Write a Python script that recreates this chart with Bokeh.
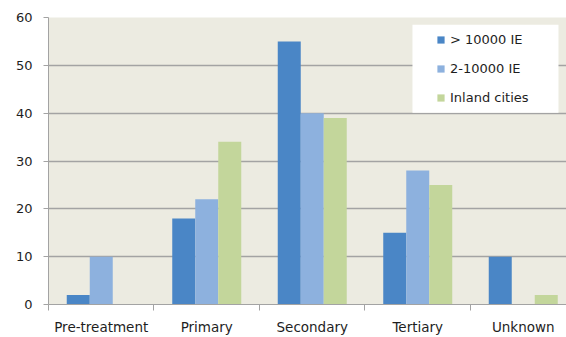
from bokeh.plotting import figure
from bokeh.models import (ColumnDataSource, Range1d, FixedTicker, Legend, LegendItem,
                          BoxAnnotation)
from bokeh.transform import dodge
from bokeh.embed import file_html
from bokeh.resources import INLINE

categories = ["Pre-treatment", "Primary", "Secondary", "Tertiary", "Unknown"]
series_names = ["> 10000 IE", "2-10000 IE", "Inland cities"]
large = [2, 18, 55, 15, 10]
medium = [10, 22, 40, 28, 0]
inland = [0, 34, 39, 25, 2]
y_ticks = [0, 10, 20, 30, 40, 50, 60]

colors = ["#4A86C6", "#8DB1DE", "#C3D69B"]
grid_col = "#A3A3A3"
text_col = "#1E1E1E"

src = ColumnDataSource(dict(x=list(range(len(categories))), a=large, b=medium, c=inland))

p = figure(width=566, height=337, output_backend="svg", toolbar_location=None,
           x_range=Range1d(-0.5, 4.41), y_range=Range1d(0, 60),
           min_border_left=48, min_border_right=0, min_border_top=17, min_border_bottom=33)
p.background_fill_color = "#ECEBE1"
p.border_fill_color = "white"
p.outline_line_color = None

bw = 0.218
r1 = p.vbar(x=dodge("x", -bw, range=p.x_range), top="a", width=bw, source=src,
            fill_color=colors[0], line_color=None)
r2 = p.vbar(x=dodge("x", 0, range=p.x_range), top="b", width=bw, source=src,
            fill_color=colors[1], line_color=None)
r3 = p.vbar(x=dodge("x", bw, range=p.x_range), top="c", width=bw, source=src,
            fill_color=colors[2], line_color=None)

# axes
xa = p.xaxis[0]
xa.ticker = FixedTicker(ticks=list(range(len(categories))),
                        minor_ticks=[i - 0.5 for i in range(len(categories) + 1)])
xa.major_label_overrides = {i: c for i, c in enumerate(categories)}
xa.major_tick_line_color = None
xa.major_tick_out = 0
xa.major_tick_in = 0
xa.minor_tick_line_color = grid_col
xa.minor_tick_out = 6
xa.minor_tick_in = 0
xa.axis_line_color = grid_col
xa.major_label_standoff = 8
xa.major_label_text_font = "DejaVu Sans"
xa.major_label_text_font_size = "13.5px"
xa.major_label_text_color = text_col

ya = p.yaxis[0]
ya.ticker = FixedTicker(ticks=y_ticks)
ya.minor_tick_line_color = None
ya.major_tick_line_color = grid_col
ya.major_tick_out = 5
ya.major_tick_in = 0
ya.axis_line_color = grid_col
ya.major_label_standoff = 11
ya.major_label_text_font = "DejaVu Sans"
ya.major_label_text_font_size = "13px"
ya.major_label_text_color = text_col

p.xgrid.grid_line_color = None
p.ygrid.grid_line_color = grid_col
p.ygrid.grid_line_width = 1.4

# legend box
box = BoxAnnotation(left=2.95, right=4.334, top=58.5, bottom=40.1,
                    fill_color="white", fill_alpha=1.0, line_color=None)
p.add_layout(box)

legend = Legend(items=[LegendItem(label=series_names[0], renderers=[r1]),
                       LegendItem(label=series_names[1], renderers=[r2]),
                       LegendItem(label=series_names[2], renderers=[r3])],
                location=(388, 197), background_fill_alpha=0, border_line_color=None,
                padding=5, margin=0, spacing=9, label_height=20, glyph_height=9,
                glyph_width=9, label_standoff=5, label_text_font="DejaVu Sans",
                label_text_font_size="13px", label_text_color=text_col)
p.add_layout(legend)

open("out.html", "w").write(file_html(p, INLINE))
